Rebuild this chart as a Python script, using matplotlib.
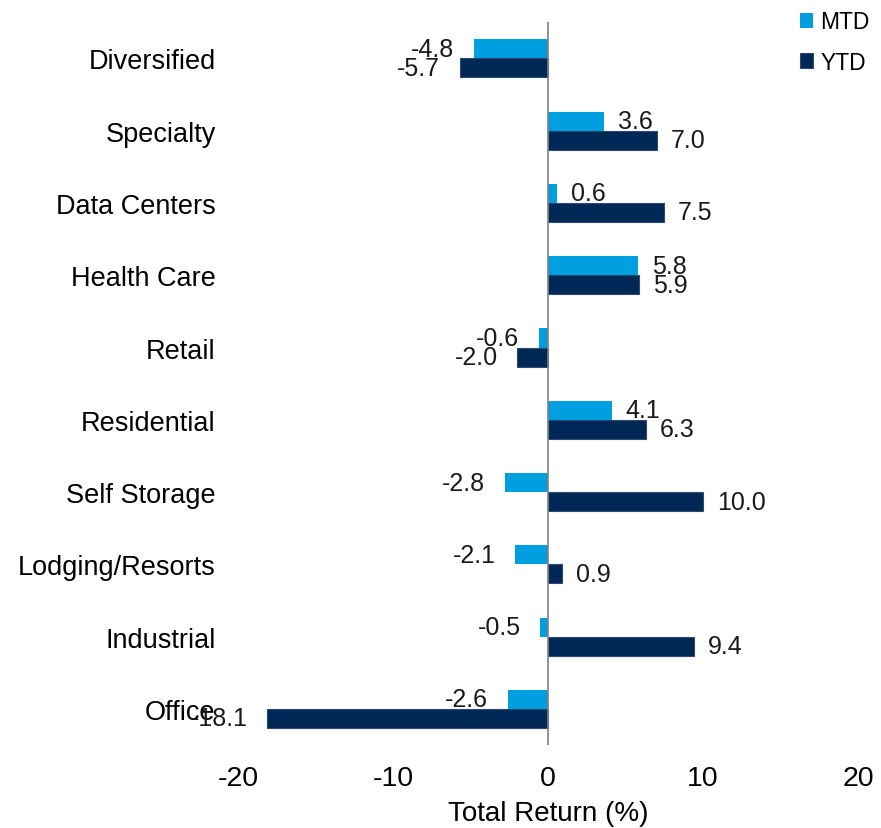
import matplotlib
matplotlib.use("Agg")
import matplotlib.pyplot as plt
import numpy as np

categories = ["Diversified", "Specialty", "Data Centers", "Health Care", "Retail",
              "Residential", "Self Storage", "Lodging/Resorts", "Industrial", "Office"]
mtd = [-4.8, 3.6, 0.6, 5.8, -0.6, 4.1, -2.8, -2.1, -0.5, -2.6]
ytd = [-5.7, 7.0, 7.5, 5.9, -2.0, 6.3, 10.0, 0.9, 9.4, -18.1]
xticks = [-20, -10, 0, 10, 20]

MTD_COLOR = "#009FDF"
YTD_COLOR = "#002856"

plt.rcParams['font.family'] = ['Liberation Sans', 'DejaVu Sans']

fig = plt.figure(figsize=(8.81, 8.29), dpi=100)
ax = fig.add_axes([0.270, 0.100, 0.704, 0.872])

y = np.arange(len(categories))
h = 0.263
b1 = ax.barh(y - h / 2, mtd, height=h, color=MTD_COLOR, label="MTD")
b2 = ax.barh(y + h / 2, ytd, height=h, color=YTD_COLOR, edgecolor="#2E4A6E",
             linewidth=0.8, label="YTD")

for bars, vals in ((b1, mtd), (b2, ytd)):
    for rect, v in zip(bars, vals):
        yc = rect.get_y() + rect.get_height() / 2
        if v >= 0:
            ax.annotate(f"{v:.1f}", (v, yc), xytext=(10, 0), textcoords="offset points",
                        ha="left", va="center", fontsize=18, color="#1a1a1a")
        else:
            ax.annotate(f"{v:.1f}", (v, yc), xytext=(-14, 0), textcoords="offset points",
                        ha="right", va="center", fontsize=18, color="#1a1a1a")

ax.set_xlim(-20, 20)
ax.set_ylim(len(categories) - 0.5, -0.5)
ax.axvline(0, color="#808080", linewidth=1.2)
for s in ax.spines.values():
    s.set_visible(False)
ax.set_xticks(xticks)
ax.set_xticklabels([str(t) for t in xticks], fontsize=20.5)
ax.set_yticks(y)
ax.set_yticklabels(categories, fontsize=19.5)
ax.tick_params(axis="both", length=0)
ax.tick_params(axis="x", pad=14)
ax.tick_params(axis="y", pad=16)
ax.set_xlabel("Total Return (%)", fontsize=20, labelpad=7)

leg = fig.legend(handles=[b1, b2], labels=["MTD", "YTD"], loc="upper right",
                 bbox_to_anchor=(1.0, 1.0), frameon=False, fontsize=16.5,
                 handlelength=0.6, handleheight=0.6, handletextpad=0.3,
                 labelspacing=0.75, borderaxespad=0.1)

fig.savefig("out.png", dpi=100)
